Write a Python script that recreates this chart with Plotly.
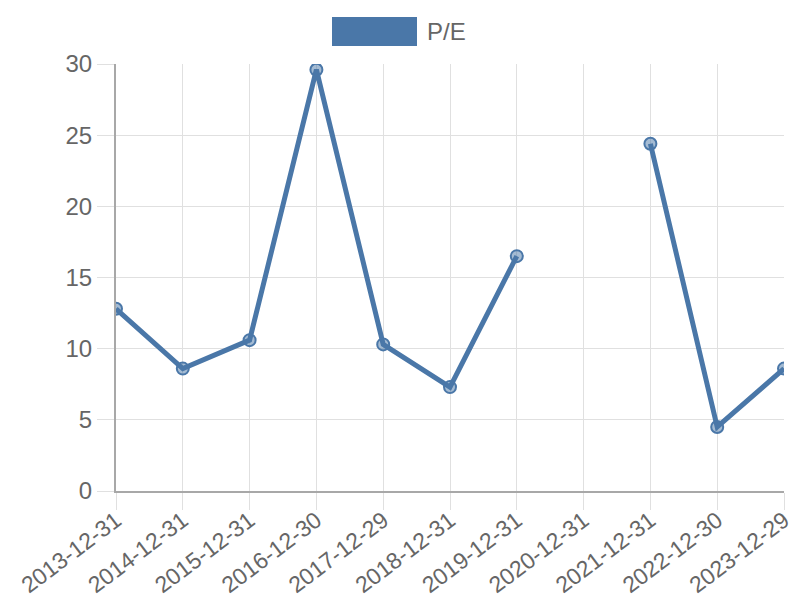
import plotly.graph_objects as go

dates = ["2013-12-31", "2014-12-31", "2015-12-31", "2016-12-30", "2017-12-29",
         "2018-12-31", "2019-12-31", "2020-12-31", "2021-12-31", "2022-12-30",
         "2023-12-29"]
pe = [12.8, 8.6, 10.6, 29.6, 10.3, 7.3, 16.5, None, 24.4, 4.5, 8.6]
series_name = "P/E"

blue = "#4a77a8"
grid = "#e0e0e0"
axis = "#a8a8a8"
font = "Liberation Sans, Arial, sans-serif"

fig = go.Figure()
fig.add_trace(go.Scatter(
    x=dates,
    y=pe,
    mode="lines+markers",
    name=series_name,
    connectgaps=False,
    line=dict(color=blue, width=5),
    marker=dict(size=12, color="rgba(74,119,168,0.5)", line=dict(color=blue, width=2)),
    showlegend=False,
))

# chart.js style legend box on top
fig.add_shape(type="rect", xref="paper", yref="paper",
              x0=(332 - 116) / 668, x1=(417 - 116) / 668,
              y0=(491 - 46) / 427, y1=(491 - 17) / 427,
              fillcolor=blue, line=dict(width=0))
fig.add_annotation(text=series_name, xref="paper", yref="paper",
                   x=(425 - 116) / 668, y=(491 - 32) / 427,
                   xanchor="left", yanchor="middle", showarrow=False,
                   font=dict(family=font, size=24, color="#666666"))

fig.update_layout(
    width=800, height=600,
    margin=dict(l=116, r=16, t=64, b=109),
    paper_bgcolor="white",
    plot_bgcolor="white",
    font=dict(family=font, size=24, color="#666666"),
    xaxis=dict(
        type="category",
        range=[0, 10],
        automargin=False,
        showgrid=True, gridcolor=grid, gridwidth=1,
        ticks="outside", ticklen=17, tickcolor=grid,
        tickangle=-37,
        ticklabelstandoff=-12,
        showline=True, linecolor=axis, linewidth=2,
        zeroline=False,
        tickfont=dict(size=23, color="#666666"),
    ),
    yaxis=dict(
        range=[0, 30],
        dtick=5,
        automargin=False,
        showgrid=True, gridcolor=grid, gridwidth=1,
        ticks="outside", ticklen=17, tickcolor=grid,
        showline=True, linecolor=axis, linewidth=2,
        zeroline=False,
        tickfont=dict(size=24, color="#666666"),
    ),
)

# drop the default body margin so the figure sits at the window corner
fig.write_html("out.html", config={"displayModeBar": False},
               post_script="document.body.style.margin='0';")
